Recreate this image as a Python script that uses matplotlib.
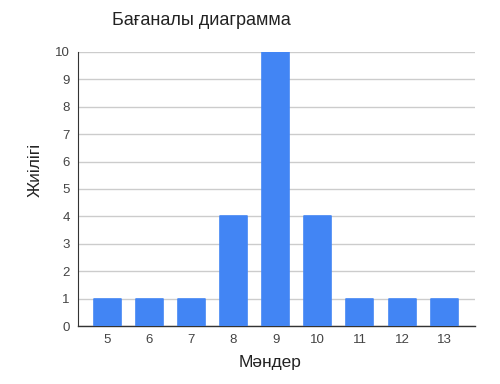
import matplotlib.pyplot as plt

plt.rcParams['font.family'] = ['Liberation Sans', 'DejaVu Sans']

values = ['5', '6', '7', '8', '9', '10', '11', '12', '13']
counts = [1, 1, 1, 4, 10, 4, 1, 1, 1]
yticks = list(range(0, 11))

fig = plt.figure(figsize=(5, 3.84), dpi=100)
ax = fig.add_axes([0.156, 0.151, 0.794, 0.714])

x = list(range(len(values)))
bars = ax.bar(x, counts, width=0.64, color='#4285F4', edgecolor='#4285F4',
              linewidth=1.2, zorder=3)
for b in bars:
    b.set_joinstyle('round')

ax.set_xlim(-0.69, len(values) - 1 + 0.73)
ax.set_ylim(0, 10)
ax.set_yticks(yticks)
ax.set_xticks(x)
ax.set_xticklabels(values)
ax.tick_params(axis='both', length=0, labelsize=9.5, colors='#444444', pad=6)
ax.tick_params(axis='y', pad=6)
ax.grid(axis='y', color='#cccccc', linewidth=1, zorder=0)

for s in ['top', 'right']:
    ax.spines[s].set_visible(False)
ax.spines['left'].set_color('#333333')
ax.spines['left'].set_linewidth(0.8)
ax.spines['bottom'].set_color('#333333')
ax.spines['bottom'].set_linewidth(1)

fig.text(0.402, 0.947, 'Бағаналы диаграмма', ha='center', va='center', fontsize=13, color='#222222')
fig.text(0.07, 0.557, 'Жиілігі', ha='center', va='center', rotation=90, fontsize=12.5, color='#222222')
fig.text(0.54, 0.057, 'Мәндер', ha='center', va='center', fontsize=12.5, color='#222222')

plt.savefig('out.png')
